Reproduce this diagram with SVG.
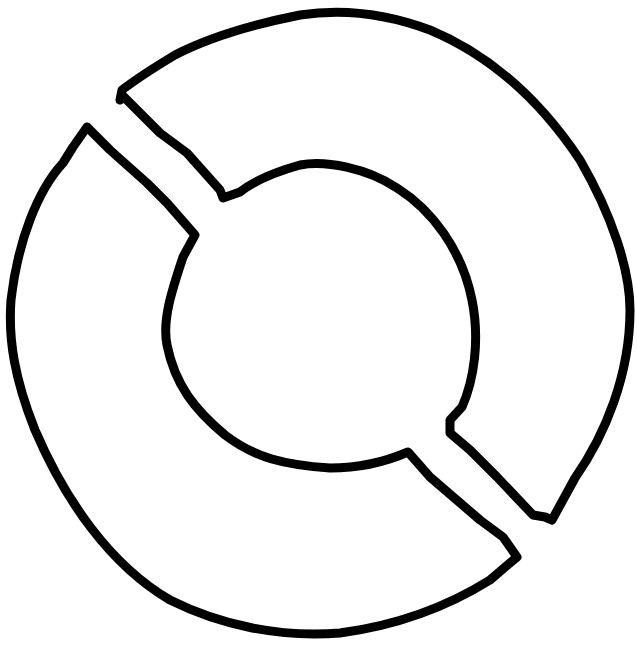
<svg xmlns="http://www.w3.org/2000/svg" width="637" height="646" viewBox="0 0 637 646">
<style>.s{fill:none;stroke:#000;stroke-width:9;stroke-linejoin:round;stroke-linecap:round}</style>
<rect width="637" height="646" fill="#fff"/>
<g id="upper-piece">
<path class="s" d="M122,95 L120,100 L122,90 C135,80 150,70 175,55 C210,37 250,25 300,15 C345,8 390,15 430,30 C490,55 540,100 580,160 C612,215 630,270 630,310 C630,375 605,435 575,478 L552,520 L545,517 L533,515 L497,477 L470,450 L450,433 L450,420 L462,407 C474,380 480,340 472,300 C462,250 432,210 397,188 C367,168 325,160 300,165 C275,172 255,180 240,192 L223,198 L220,190 L187,153 L160,133 Z"/>
</g>
<g id="lower-piece">
<path class="s" d="M87,127 L110,150 L147,183 L167,203 L195,235 L183,257 C172,290 162,320 167,345 C175,385 195,410 225,435 C255,458 285,465 330,468 C360,468 385,462 408,452 L430,477 L480,520 L503,537 L517,557 L490,580 C450,605 400,625 340,633 C280,638 220,625 170,600 C110,565 65,500 35,430 C15,380 8,340 11,300 C18,240 38,190 63,163 L73,147 Z"/>
</g>
</svg>
